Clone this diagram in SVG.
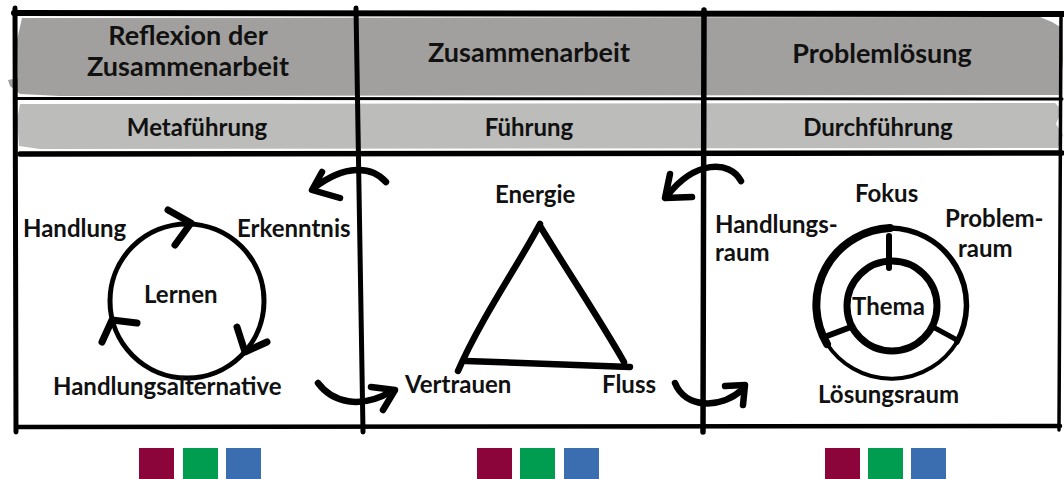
<svg xmlns="http://www.w3.org/2000/svg" width="1064" height="479" viewBox="0 0 1064 479">
  <style>
    .t { font-family: Lato, "Open Sans", "Liberation Sans", sans-serif; font-weight: 700; fill: #111; }
    .h1 { font-size: 27px; text-anchor: middle; }
    .h2 { font-size: 24px; text-anchor: middle; }
    .lb { font-size: 24px; }
    .ink { fill: none; stroke: #000; stroke-linecap: round; stroke-linejoin: round; }
    .conn { fill: none; stroke: #000; stroke-width: 6.5; stroke-linecap: round; stroke-linejoin: round; }
  </style>
  <rect width="1064" height="479" fill="#fff"/>

  <!-- header bands -->
  <g id="bands">
    <path d="M22,18 L1040,17 L1052,22 L1062,28 L1063,60 L1060,95 L60,96 L20,94 L10,86 L8,80 L18,78 L17,40 Z" fill="#a1a09e"/>
    <path d="M20,104 L1055,103 L1062,110 L1056,124 L1063,135 L1058,148 L40,149 L19,146 L17,120 Z" fill="#bcbcba"/>
  </g>

  <!-- frame lines -->
  <g id="frame" class="ink">
    <path d="M14,13 L1064,14" stroke-width="6"/>
    <path d="M15,8 L16,432" stroke-width="5"/>
    <path d="M356,8 L363,432" stroke-width="5"/>
    <path d="M704,10 L703,432" stroke-width="5.5"/>
    <path d="M1061,16 L1059,430" stroke-width="3.5"/>
    <path d="M16,98.5 L1062,99" stroke-width="3"/>
    <path d="M20,154 L1062,153" stroke-width="5.5"/>
    <path d="M16,427 L1060,426" stroke-width="4.5"/>
  </g>

  <!-- header texts -->
  <g id="col1-header">
    <text class="t h1" x="188" y="45">Reflexion der</text>
    <text class="t h1" x="188" y="76">Zusammenarbeit</text>
    <text class="t h2" x="197" y="136">Metaführung</text>
  </g>
  <g id="col2-header">
    <text class="t h1" x="529" y="62">Zusammenarbeit</text>
    <text class="t h2" x="529" y="136">Führung</text>
  </g>
  <g id="col3-header">
    <text class="t h1" x="882" y="63">Problemlösung</text>
    <text class="t h2" x="878" y="136">Durchführung</text>
  </g>

  <!-- Lernen cycle -->
  <g id="node-lernen">
    <circle cx="187" cy="301" r="77" class="ink" stroke-width="5"/>
    <path d="M168,210 L191,223 L175,245" class="ink" stroke-width="7"/>
    <path d="M237,327 L245,352 L267,342" class="ink" stroke-width="7"/>
    <path d="M137,323 L112,320 L102,342" class="ink" stroke-width="7"/>
    <text class="t lb" x="23" y="237">Handlung</text>
    <text class="t lb" x="237" y="237">Erkenntnis</text>
    <text class="t lb" x="144" y="303">Lernen</text>
    <text class="t lb" x="53" y="395">Handlungsalternative</text>
  </g>

  <!-- Triangle -->
  <g id="node-triangle">
    <path d="M540,224 C520,262 480,320 458,371" class="ink" stroke-width="6.5"/>
    <path d="M540,226 C570,275 600,320 624,362" class="ink" stroke-width="6.5"/>
    <path d="M466,361 L630,367" class="ink" stroke-width="6.5"/>
    <text class="t lb" x="495" y="203">Energie</text>
    <text class="t lb" x="405" y="393">Vertrauen</text>
    <text class="t lb" x="602" y="393">Fluss</text>
  </g>

  <!-- Donut -->
  <g id="node-donut">
    <path d="M890,228 A77,77 0 0 0 827,344" class="ink" stroke-width="8"/>
    <path d="M890,228 A77,77 0 0 1 957,342" class="ink" stroke-width="5.5"/>
    <path d="M827,344 A77,77 0 0 0 957,342" class="ink" stroke-width="4"/>
    <circle cx="892" cy="306" r="45" class="ink" stroke-width="7"/>
    <path d="M889,236 L889,268" class="ink" stroke-width="6"/>
    <path d="M827,336 L851,327" class="ink" stroke-width="6"/>
    <path d="M935,328 L957,340" class="ink" stroke-width="5"/>
    <text class="t lb" x="855" y="202">Fokus</text>
    <text class="t lb" x="715" y="233">Handlungs-</text>
    <text class="t lb" x="715" y="261">raum</text>
    <text class="t lb" x="945" y="227">Problem-</text>
    <text class="t lb" x="958" y="257">raum</text>
    <text class="t lb" x="852" y="315">Thema</text>
    <text class="t lb" x="818" y="403">Lösungsraum</text>
  </g>

  <!-- connectors -->
  <g id="connectors">
    <path class="conn" d="M386,182 C372,166 345,164 314,188"/>
    <path class="conn" d="M322,172 L312,190 L340,198"/>
    <path class="conn" d="M318,383 C332,402 360,410 392,391"/>
    <path class="conn" d="M371,387 L395,390 L383,410"/>
    <path class="conn" d="M741,181 C730,160 695,160 667,196"/>
    <path class="conn" d="M670,174 L665,198 L692,197"/>
    <path class="conn" d="M675,383 C685,408 720,410 743,389"/>
    <path class="conn" d="M725,386 L745,385 L743,405"/>
  </g>

  <!-- colour swatches -->
  <g id="swatches">
    <rect x="139" y="448" width="35" height="31" fill="#8b053b"/>
    <rect x="183" y="448" width="35" height="31" fill="#009c50"/>
    <rect x="226" y="448" width="35" height="31" fill="#3b6eb0"/>
    <rect x="477" y="448" width="35" height="31" fill="#8b053b"/>
    <rect x="520" y="448" width="35" height="31" fill="#009c50"/>
    <rect x="564" y="448" width="35" height="31" fill="#3b6eb0"/>
    <rect x="825" y="448" width="35" height="31" fill="#8b053b"/>
    <rect x="868" y="448" width="35" height="31" fill="#009c50"/>
    <rect x="911" y="448" width="35" height="31" fill="#3b6eb0"/>
  </g>
</svg>
